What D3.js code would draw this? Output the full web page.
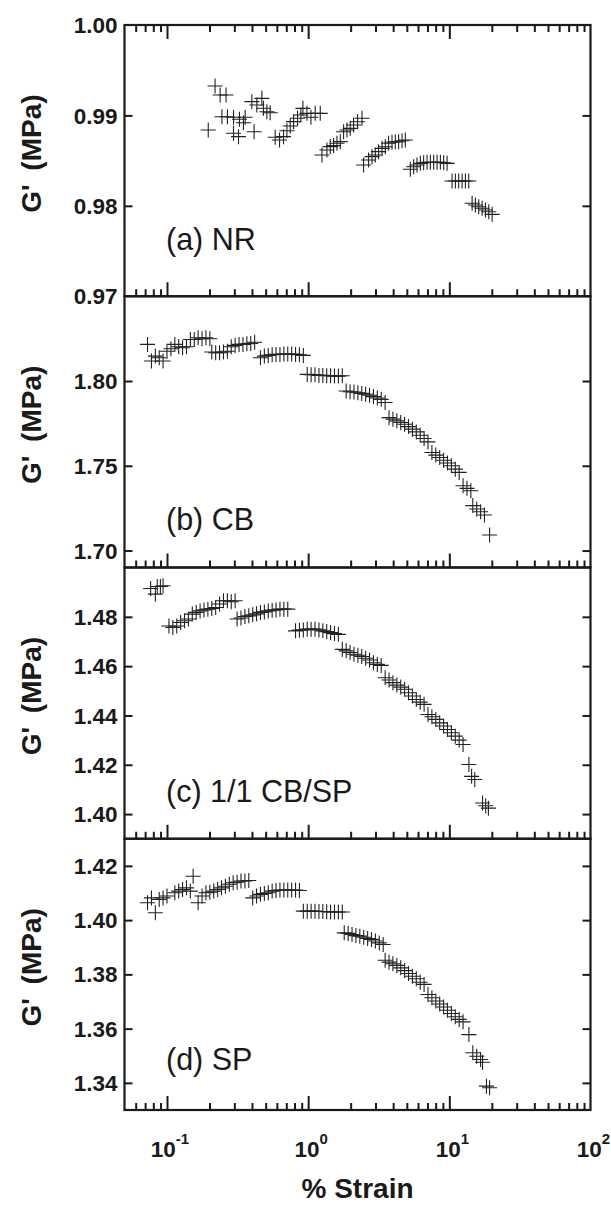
<!DOCTYPE html>
<html><head><meta charset="utf-8">
<script src="https://cdn.jsdelivr.net/npm/d3@7"></script>
<style>
html,body{margin:0;padding:0;background:#fff;}
svg{display:block;}
</style></head>
<body>
<svg id="chart" width="611" height="1206"></svg>
<script>
// ---- data ----
const panelLabels = ["(a) NR", "(b) CB", "(c) 1/1 CB/SP", "(d) SP"];
const yDomains = [[0.97, 1.00], [1.69, 1.85], [1.39, 1.50], [1.33, 1.43]];
const yTicks = [[0.97, 0.98, 0.99, 1.00], [1.70, 1.75, 1.80], [1.40, 1.42, 1.44, 1.46, 1.48], [1.34, 1.36, 1.38, 1.40, 1.42]];
const xDomain = [0.05, 100];
const xMajorTicks = [0.1, 1, 10, 100];
const xTickLabels = [["10", "-1"], ["10", "0"], ["10", "1"], ["10", "2"]];
const xTitle = "% Strain";
const yTitle = "G' (MPa)";

const nrData = [
  [0.196,0.98839],[0.219,0.99325],[0.238,0.99226],[0.262,0.99226],[0.245,0.98986],[0.268,0.98986],[0.296,0.98979],[0.326,0.98957],[0.358,0.98979],[0.296,0.98802],[0.321,0.98765],[0.348,0.98919],[0.414,0.98820],[0.399,0.99152],[0.433,0.99115],[0.470,0.99189],[0.482,0.99079],[0.510,0.99041],[0.538,0.99030],
  [0.584,0.98758],[0.627,0.98728],[0.669,0.98765],[0.707,0.98831],[0.746,0.98883],[0.788,0.98931],[0.841,0.98968],[0.888,0.99005],[0.918,0.99078],[0.980,0.99023],[1.046,0.98979],[1.122,0.99023],[1.218,0.99023],
  [1.252,0.98562],[1.358,0.98618],[1.434,0.98655],[1.513,0.98666],[1.600,0.98692],[1.689,0.98710],[1.782,0.98820],[1.883,0.98839],[1.987,0.98857],[2.098,0.98894],[2.239,0.98930],[2.406,0.98968],
  [2.469,0.98452],[2.680,0.98507],[2.833,0.98544],[2.990,0.98562],[3.155,0.98599],[3.336,0.98636],[3.520,0.98654],[3.715,0.98692],[3.926,0.98703],[4.143,0.98709],[4.373,0.98709],[4.624,0.98720],[4.878,0.98728],
  [5.296,0.98404],[5.586,0.98433],[5.905,0.98452],[6.234,0.98470],[6.577,0.98477],[6.953,0.98481],[7.339,0.98481],[7.745,0.98481],[8.188,0.98481],[8.643,0.98481],[9.120,0.98477],[9.642,0.98470],
  [10.46,0.98275],[11.04,0.98275],[11.65,0.98275],[12.32,0.98275],[13.00,0.98275],[13.72,0.98275],
  [14.50,0.98028],[15.30,0.98009],[16.15,0.97990],[17.07,0.97973],[18.02,0.97954],[19.02,0.97935],[20.10,0.97906]
];
const cbData = [
  [0.0728,1.8216],[0.0776,1.8118],[0.0827,1.8147],[0.0881,1.8137],[0.0938,1.8118],[0.1000,1.8176],
  [0.1066,1.8190],[0.1136,1.8216],[0.1210,1.8202],[0.1289,1.8196],[0.1374,1.8202],[0.1464,1.8245],[0.1560,1.8245],[0.1662,1.8255],[0.1771,1.8249],[0.1887,1.8255],[0.2011,1.8249],
  [0.2076,1.8171],[0.2212,1.8167],[0.2357,1.8167],[0.2512,1.8171],[0.2677,1.8176],[0.2852,1.8202],[0.3039,1.8210],[0.3239,1.8216],[0.3451,1.8216],[0.3678,1.8220],[0.3919,1.8222],[0.4176,1.8229],
  [0.4594,1.8137],[0.4895,1.8147],[0.5216,1.8151],[0.5558,1.8155],[0.5923,1.8157],[0.6312,1.8157],[0.6726,1.8159],[0.7168,1.8159],[0.7638,1.8159],[0.8139,1.8157],[0.8673,1.8155],[0.9242,1.8151],
  [0.985,1.8039],[1.049,1.8037],[1.118,1.8037],[1.192,1.8033],[1.270,1.8033],[1.353,1.8031],[1.442,1.8031],[1.536,1.8029],[1.637,1.8029],[1.745,1.8031],
  [1.859,1.7941],[1.981,1.7937],[2.111,1.7935],[2.250,1.7931],[2.397,1.7927],[2.554,1.7922],[2.722,1.7916],[2.900,1.7908],[3.091,1.7900],[3.293,1.7892],[3.510,1.7873],
  [3.740,1.7784],[3.985,1.7775],[4.247,1.7765],[4.525,1.7755],[4.822,1.7745],[5.139,1.7731],[5.476,1.7716],[5.835,1.7700],[6.218,1.7680],[6.626,1.7661],[7.061,1.7641],
  [7.524,1.7578],[8.018,1.7563],[8.544,1.7549],[9.105,1.7533],[9.702,1.7516],[10.34,1.7500],[11.02,1.7480],[11.74,1.7461],
  [12.51,1.7382],[13.33,1.7367],[14.20,1.7353],
  [14.66,1.7265],[15.63,1.7245],[16.65,1.7229],[17.74,1.7210],
  [19.29,1.7092]
];
const cbspData = [
  [0.0766,1.4915],[0.0827,1.4892],[0.0853,1.4923],[0.0898,1.4923],[0.0938,1.4926],
  [0.1032,1.4763],[0.1100,1.4757],[0.1172,1.4763],[0.1249,1.4777],[0.1331,1.4784],[0.1418,1.4791],[0.1511,1.4811],[0.1610,1.4818],[0.1716,1.4824],[0.1828,1.4828],[0.1948,1.4831],[0.2076,1.4834],[0.2212,1.4838],[0.2357,1.4852],[0.2512,1.4865],[0.2677,1.4865],[0.2852,1.4861],[0.3039,1.4865],
  [0.3138,1.4791],[0.3343,1.4795],[0.3563,1.4801],[0.3797,1.4804],[0.4046,1.4808],[0.4311,1.4812],[0.4594,1.4818],[0.4895,1.4820],[0.5216,1.4824],[0.5558,1.4827],[0.5923,1.4828],[0.6312,1.4831],[0.6726,1.4831],[0.7168,1.4831],
  [0.8139,1.4743],[0.8673,1.4746],[0.9242,1.4747],[0.985,1.4750],[1.049,1.4750],[1.118,1.4750],[1.192,1.4747],[1.270,1.4743],[1.353,1.4740],[1.442,1.4736],[1.536,1.4732],[1.637,1.4729],
  [1.745,1.4668],[1.859,1.4662],[1.981,1.4655],[2.111,1.4648],[2.250,1.4644],[2.397,1.4639],[2.554,1.4632],[2.722,1.4625],[2.900,1.4614],[3.091,1.4607],[3.293,1.4603],
  [3.510,1.4553],[3.740,1.4544],[3.985,1.4533],[4.247,1.4523],[4.525,1.4515],[4.822,1.4506],[5.139,1.4492],[5.476,1.4479],[5.835,1.4465],[6.218,1.4454],[6.626,1.4445],
  [7.061,1.4404],[7.524,1.4395],[8.018,1.4384],[8.544,1.4370],[9.105,1.4357],[9.702,1.4343],[10.34,1.4330],[11.02,1.4316],[11.74,1.4300],[12.51,1.4282],
  [13.76,1.4201],[14.38,1.4153],[15.14,1.4140],
  [17.19,1.4045],[18.09,1.4034],[18.91,1.4024]
];
const spData = [
  [0.0728,1.4064],[0.0776,1.4082],[0.0827,1.4027],[0.0881,1.4076],[0.0938,1.4082],[0.1000,1.4089],
  [0.1136,1.4101],[0.1210,1.4107],[0.1289,1.4113],[0.1374,1.4119],[0.1464,1.4107],[0.1532,1.4162],
  [0.1662,1.4064],[0.1771,1.4089],[0.1887,1.4101],[0.2011,1.4103],[0.2143,1.4107],[0.2284,1.4113],[0.2433,1.4119],[0.2593,1.4125],[0.2763,1.4132],[0.2944,1.4138],[0.3138,1.4140],[0.3343,1.4144],[0.3563,1.4144],[0.3797,1.4146],
  [0.4046,1.4082],[0.4311,1.4089],[0.4594,1.4095],[0.4895,1.4098],[0.5216,1.4101],[0.5558,1.4107],[0.5923,1.4109],[0.6312,1.4111],[0.6726,1.4111],[0.7168,1.4111],[0.7638,1.4111],[0.8139,1.4111],[0.8673,1.4109],
  [0.9242,1.4033],[0.985,1.4033],[1.049,1.4033],[1.118,1.4033],[1.192,1.4032],[1.270,1.4032],[1.353,1.4031],[1.442,1.4030],[1.536,1.4030],[1.637,1.4030],[1.745,1.4030],
  [1.801,1.3953],[1.919,1.3951],[2.045,1.3947],[2.179,1.3943],[2.322,1.3941],[2.474,1.3937],[2.637,1.3932],[2.810,1.3929],[2.994,1.3923],[3.190,1.3916],[3.400,1.3910],
  [3.510,1.3852],[3.740,1.3845],[3.985,1.3839],[4.247,1.3833],[4.525,1.3824],[4.822,1.3814],[5.139,1.3803],[5.476,1.3793],[5.835,1.3784],[6.218,1.3771],[6.626,1.3763],
  [7.061,1.3726],[7.524,1.3714],[8.018,1.3702],[8.544,1.3691],[9.105,1.3680],[9.702,1.3668],[10.34,1.3656],[11.02,1.3644],[11.74,1.3634],[12.51,1.3625],
  [13.76,1.3578],
  [14.66,1.3511],[15.63,1.3498],[16.65,1.3486],[17.19,1.3476],
  [18.32,1.3388],[19.29,1.3382]
];
const panelData = [nrData, cbData, cbspData, spData];

// ---- layout ----
const svg = d3.select("#chart");
const plotL = 124.5, plotR = 590.5, plotT = 25, plotB = 1110;
const ph = (plotB - plotT) / 4;
const x = d3.scaleLog().domain(xDomain).range([plotL, plotR]);
const minorTicks = [];
[0.01, 0.1, 1, 10].forEach(d => { for (let k = 2; k <= 9; k++) { const v = d * k; if (v > xDomain[0] && v < xDomain[1]) minorTicks.push(+v.toPrecision(3)); } });

const fontFam = "'Liberation Sans', Arial, Helvetica, sans-serif";
const ink = "#1a1a1a";

function styleAxis(a) {
  a.select(".domain").remove();
  a.selectAll("line").attr("stroke", ink).attr("stroke-width", 2);
}

panelData.forEach((data, i) => {
  const y0 = plotT + i * ph, y1 = y0 + ph;
  const y = d3.scaleLinear().domain(yDomains[i]).range([y1, y0]);
  const g = svg.append("g");
  const majors = xMajorTicks.filter(v => v < xDomain[1]);

  styleAxis(g.append("g").attr("transform", `translate(0,${y1})`)
    .call(d3.axisBottom(x).tickValues(minorTicks).tickSize(-7).tickFormat("")));
  styleAxis(g.append("g").attr("transform", `translate(0,${y1})`)
    .call(d3.axisBottom(x).tickValues(majors).tickSize(-14).tickFormat("")));
  if (i === 0) {
    styleAxis(g.append("g").attr("transform", `translate(0,${y0})`)
      .call(d3.axisTop(x).tickValues(minorTicks).tickSize(-7).tickFormat("")));
    styleAxis(g.append("g").attr("transform", `translate(0,${y0})`)
      .call(d3.axisTop(x).tickValues(majors).tickSize(-14).tickFormat("")));
  }

  const ticksInner = yTicks[i].filter(v => v > yDomains[i][0] + 1e-9 && v < yDomains[i][1] - 1e-9);
  styleAxis(g.append("g").attr("transform", `translate(${plotL},0)`)
    .call(d3.axisLeft(y).tickValues(ticksInner).tickSize(-8).tickFormat("")));
  styleAxis(g.append("g").attr("transform", `translate(${plotR},0)`)
    .call(d3.axisRight(y).tickValues(ticksInner).tickSize(-8).tickFormat("")));

  g.selectAll("text.ytl").data(yTicks[i]).join("text")
    .attr("class", "ytl")
    .attr("x", plotL - 7)
    .attr("y", d => y(d))
    .attr("dy", "0.36em")
    .attr("text-anchor", "end")
    .attr("font-family", fontFam).attr("font-weight", "bold").attr("font-size", 22.5)
    .attr("fill", ink)
    .text(d => d3.format(".2f")(d));

  g.append("rect").attr("x", plotL).attr("y", y0).attr("width", plotR - plotL).attr("height", ph)
    .attr("fill", "none").attr("stroke", ink).attr("stroke-width", 2.2);

  const s = 7.5;
  g.append("g").selectAll("path").data(data).join("path")
    .attr("d", d => `M${x(d[0]) - s},${y(d[1])}h${2 * s}M${x(d[0])},${y(d[1]) - s}v${2 * s}`)
    .attr("stroke", "#222").attr("stroke-width", 1.1).attr("fill", "none");

  g.append("text").attr("x", 166).attr("y", y0 + [225, 234, 234, 231][i])
    .attr("font-family", fontFam).attr("font-size", 30.5).attr("fill", ink)
    .text(panelLabels[i]);

  g.append("text")
    .attr("transform", `translate(41,${(y0 + y1) / 2 - 7}) rotate(-90)`)
    .attr("text-anchor", "middle")
    .attr("font-family", fontFam).attr("font-weight", "bold").attr("font-size", 28)
    .attr("word-spacing", 6)
    .attr("fill", ink)
    .text(yTitle);
});

const xl = svg.append("g").selectAll("text").data(xMajorTicks).join("text")
  .attr("x", d => x(d) + 3)
  .attr("y", plotB + 47)
  .attr("text-anchor", "middle")
  .attr("font-family", fontFam).attr("font-weight", "bold").attr("font-size", 22.5)
  .attr("fill", ink);
xl.append("tspan").text((d, i) => xTickLabels[i][0]);
xl.append("tspan").attr("dy", -13).attr("font-size", 15).text((d, i) => xTickLabels[i][1]);

svg.append("text").attr("x", (plotL + plotR) / 2).attr("y", plotB + 88)
  .attr("text-anchor", "middle")
  .attr("font-family", fontFam).attr("font-weight", "bold").attr("font-size", 28)
  .attr("fill", ink)
  .text(xTitle);
</script>
</body></html>
